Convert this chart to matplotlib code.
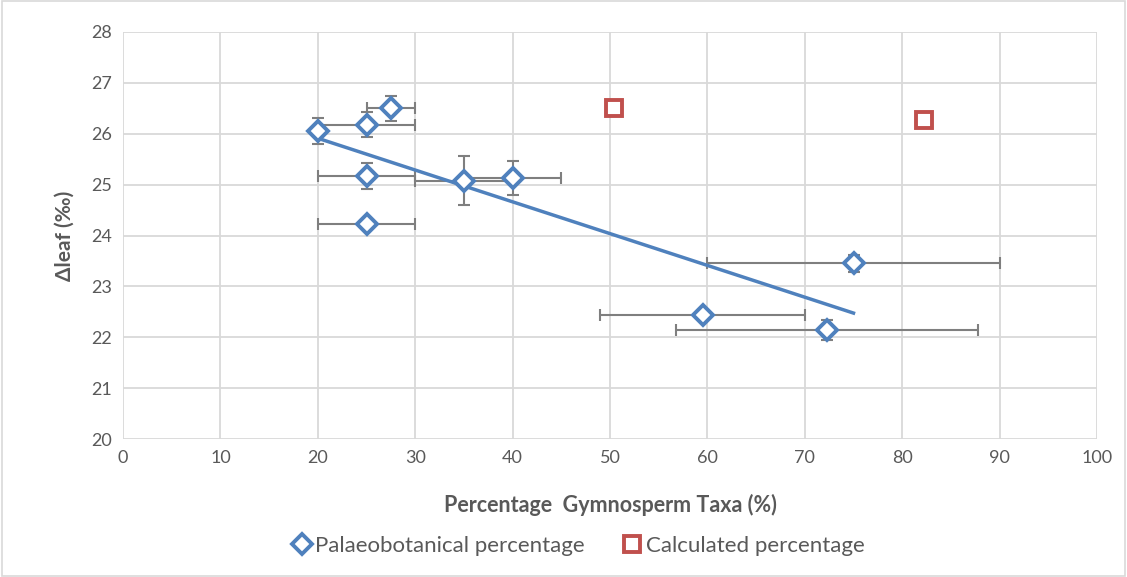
import matplotlib
matplotlib.use("Agg")
import matplotlib.pyplot as plt
import numpy as np
from matplotlib.patches import Rectangle

plt.rcParams['font.family'] = ['Lato', 'DejaVu Sans']

# Palaeobotanical percentage data
pal_x = [20, 25, 27.5, 25, 25, 35, 40, 75, 59.5, 72.3]
pal_y = [26.05, 26.18, 26.5, 25.17, 24.22, 25.08, 25.13, 23.45, 22.43, 22.14]
pal_xerr = [0, 5, 2.5, 5, 5, 5, 5, 15, 10.5, 15.5]
pal_yerr = [0.25, 0.25, 0.25, 0.25, 0.05, 0.49, 0.33, 0.17, 0.08, 0.2]

# Calculated percentage data
calc_x = [50.4, 82.2]
calc_y = [26.5, 26.27]

x_ticks = list(range(0, 101, 10))
y_ticks = list(range(20, 29, 1))

blue = '#4F81BD'
red = '#C0504D'
grey_txt = '#595959'

fig = plt.figure(figsize=(11.27, 5.77), dpi=100)
ax = fig.add_axes([123/1127, 1-439/577, (1097-123)/1127, (439-32)/577])

ax.set_xlim(0, 100)
ax.set_ylim(20, 28)
ax.set_xticks(x_ticks)
ax.set_yticks(y_ticks)
ax.grid(True, color='#D9D9D9', lw=1.3)
ax.set_axisbelow(True)
for s in ax.spines.values():
    s.set_visible(False)
ax.tick_params(length=0, labelsize=13, colors=grey_txt, pad=8)

ax.errorbar(pal_x, pal_y, xerr=pal_xerr, yerr=pal_yerr, fmt='none',
            ecolor='#7F7F7F', elinewidth=1.5, capsize=4.5, capthick=1.5, zorder=2)

# linear trendline
coef = np.polyfit(pal_x, pal_y, 1)
tx = np.array([min(pal_x), max(pal_x)])
ax.plot(tx, np.polyval(coef, tx), color=blue, lw=2.5, zorder=3)

ax.plot(pal_x, pal_y, ls='none', marker='D', ms=10, mfc='white', mec=blue, mew=2.8,
        zorder=4, label='Palaeobotanical percentage')
ax.plot(calc_x, calc_y, ls='none', marker='s', ms=12, mfc='white', mec=red, mew=2.8,
        zorder=4, label='Calculated percentage')

ax.set_xlabel('Percentage  Gymnosperm Taxa (%)', fontsize=15.5, fontweight='bold',
              color=grey_txt, labelpad=20)
ax.set_ylabel('Δleaf (‰)', fontsize=15, fontweight='bold', color=grey_txt, labelpad=12)

leg = fig.legend(loc='center', bbox_to_anchor=(577/1127, 1-546/577), ncol=2,
                 frameon=False, fontsize=16, handletextpad=0.05, columnspacing=1.6,
                 handlelength=1.1)
for t in leg.get_texts():
    t.set_color(grey_txt)

fig.patches.append(Rectangle((0.002, 0.002), 0.996, 0.996, transform=fig.transFigure,
                             fill=False, edgecolor='#D9D9D9', lw=1.2))

fig.savefig('out.png', dpi=100)
